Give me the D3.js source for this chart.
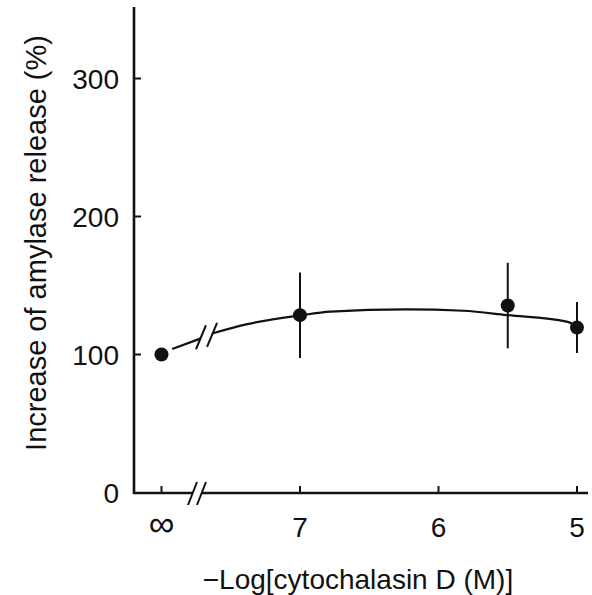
<!DOCTYPE html>
<html>
<head>
<meta charset="utf-8">
<script src="https://cdn.jsdelivr.net/npm/d3@7"></script>
<style>
  body { margin: 0; background: #fff; }
  svg text { font-family: "Liberation Sans", Arial, Helvetica, sans-serif; fill: #111; }
</style>
</head>
<body>
<div id="chart"></div>
<script>
// points: x position (8 stands for the "∞" slot on the axis)
const pointX = [8, 7, 5.5, 5];
const pointMean = [100, 128.5, 135.5, 119.5];
const pointErr = [0, 31, 31, 18.5];

// fitted curve (left piece and main piece around the break)
const curveLeftX = [7.923, 7.72];
const curveLeftY = [104, 111.5];
const curveMainX = [7.635, 7.38, 7, 6.78, 6.23, 5.82, 5.51, 5.075, 5];
const curveMainY = [115.2, 122, 128.3, 131, 132.7, 131.7, 128.6, 123.8, 120.5];

const xTickValues = [8, 7, 6, 5];
const xTickLabels = ["∞", "7", "6", "5"];
const yTickValues = [0, 100, 200, 300];

const width = 592, height = 595;

const svg = d3.select("#chart").append("svg")
    .attr("width", width)
    .attr("height", height);

const x = d3.scaleLinear().domain([8, 5]).range([161.5, 577]);
const y = d3.scaleLinear().domain([0, 300]).range([492.5, 78.5]);

const axisX0 = 134, axisY0 = 493;

// y axis
svg.append("line")
    .attr("x1", axisX0).attr("x2", axisX0)
    .attr("y1", 7).attr("y2", axisY0 + 1)
    .attr("stroke", "#111").attr("stroke-width", 2.6);

svg.selectAll(".ytick")
    .data(yTickValues.filter(d => d > 0))
    .enter().append("line")
    .attr("x1", axisX0).attr("x2", axisX0 + 7)
    .attr("y1", d => y(d)).attr("y2", d => y(d))
    .attr("stroke", "#111").attr("stroke-width", 2);

svg.selectAll(".ylab")
    .data(yTickValues)
    .enter().append("text")
    .attr("x", 119)
    .attr("y", d => y(d))
    .attr("dy", "0.36em")
    .attr("text-anchor", "end")
    .style("font-size", "28px")
    .text(d => d);

// x axis with break
const brk1 = 192.5, brk2 = 201.5;
svg.append("line")
    .attr("x1", axisX0 - 1).attr("x2", brk1)
    .attr("y1", axisY0).attr("y2", axisY0)
    .attr("stroke", "#111").attr("stroke-width", 2.6);
svg.append("line")
    .attr("x1", brk2).attr("x2", 588)
    .attr("y1", axisY0).attr("y2", axisY0)
    .attr("stroke", "#111").attr("stroke-width", 2.6);
[brk1, brk2].forEach(bx => {
  svg.append("line")
      .attr("x1", bx - 4.5).attr("y1", axisY0 + 12)
      .attr("x2", bx + 4.5).attr("y2", axisY0 - 11)
      .attr("stroke", "#111").attr("stroke-width", 2);
});

svg.selectAll(".xtick")
    .data(xTickValues)
    .enter().append("line")
    .attr("x1", d => x(d)).attr("x2", d => x(d))
    .attr("y1", axisY0).attr("y2", axisY0 - 7)
    .attr("stroke", "#111").attr("stroke-width", 2);

svg.selectAll(".xlab")
    .data(xTickValues)
    .enter().append("text")
    .attr("x", d => x(d))
    .attr("y", (d, i) => i === 0 ? 536 : 537)
    .attr("text-anchor", "middle")
    .style("font-size", (d, i) => i === 0 ? "36px" : "28px")
    .text((d, i) => xTickLabels[i]);

// axis titles
svg.append("text")
    .attr("x", 358).attr("y", 589)
    .attr("text-anchor", "middle")
    .style("font-size", "28px")
    .text("\u2212Log[cytochalasin D (M)]");

svg.append("text")
    .attr("transform", "translate(46,243) rotate(-90)")
    .attr("text-anchor", "middle")
    .style("font-size", "29px")
    .text("Increase of amylase release (%)");

// curve
const line = d3.line()
    .x(d => x(d[0]))
    .y(d => y(d[1]))
    .curve(d3.curveMonotoneX);

svg.append("path")
    .datum(d3.zip(curveLeftX, curveLeftY))
    .attr("d", line)
    .attr("fill", "none").attr("stroke", "#111").attr("stroke-width", 2.2);
svg.append("path")
    .datum(d3.zip(curveMainX, curveMainY))
    .attr("d", line)
    .attr("fill", "none").attr("stroke", "#111").attr("stroke-width", 2.2);

// break marks on the curve
[[7.715, 112.5], [7.635, 114.2]].forEach(([bx, by]) => {
  svg.append("line")
      .attr("x1", x(bx) - 5).attr("y1", y(by) + 12)
      .attr("x2", x(bx) + 5).attr("y2", y(by) - 12)
      .attr("stroke", "#111").attr("stroke-width", 2);
});

// error bars and points
const pts = pointX.map((px, i) => ({x: px, m: pointMean[i], e: pointErr[i]}));

svg.selectAll(".err")
    .data(pts.filter(d => d.e > 0))
    .enter().append("line")
    .attr("x1", d => x(d.x)).attr("x2", d => x(d.x))
    .attr("y1", d => y(d.m + d.e)).attr("y2", d => y(d.m - d.e))
    .attr("stroke", "#111").attr("stroke-width", 2);

svg.selectAll(".dot")
    .data(pts)
    .enter().append("circle")
    .attr("cx", d => x(d.x))
    .attr("cy", d => y(d.m))
    .attr("r", 7)
    .attr("fill", "#111");
</script>
</body>
</html>
